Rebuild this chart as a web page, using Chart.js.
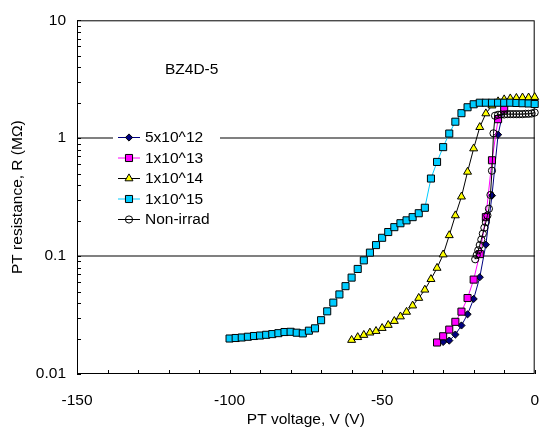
<!DOCTYPE html>
<html>
<head>
<meta charset="utf-8">
<script src="https://cdn.jsdelivr.net/npm/chart.js@4.4.1/dist/chart.umd.min.js"></script>
<style>
  html, body { margin: 0; padding: 0; background: #fff; }
  #wrap { width: 548px; height: 432px; }
</style>
</head>
<body>
<div id="wrap"><canvas id="ptChart" width="548" height="432"></canvas></div>
<script>
// PT resistance vs PT voltage, sample BZ4D-5
const V_5E12 = [-30, -28, -26, -24, -22, -20, -18, -16, -14, -12, -10];
const R_5E12 = [0.0187, 0.0192, 0.0216, 0.0258, 0.0321, 0.0433, 0.0662, 0.125, 0.326, 1.07, 1.86];

const V_1E13 = [-32, -30, -28, -26, -24, -22, -20, -18, -16, -14, -12, -10];
const R_1E13 = [0.0185, 0.0209, 0.0238, 0.0277, 0.0338, 0.0441, 0.0632, 0.104, 0.214, 0.650, 1.45, 1.75];

const V_1E14 = [-60, -58, -56, -54, -52, -50, -48, -46, -44, -42, -40, -38, -36, -34, -32, -30,
                -28, -26, -24, -22, -20, -18, -16, -14, -12, -10, -8, -6, -4, -2, 0];
const R_1E14 = [0.0194, 0.0205, 0.0214, 0.0224, 0.0231, 0.0245, 0.0260, 0.0281, 0.0307, 0.0336, 0.0380,
                0.0441, 0.0518, 0.0637, 0.0793, 0.103, 0.150, 0.221, 0.319, 0.518, 0.817, 1.24, 1.62,
                1.89, 2.05, 2.13, 2.17, 2.19, 2.21, 2.21, 2.23];

const V_1E15 = [-100, -98, -96, -94, -92, -90, -88, -86, -84, -82, -80, -78, -76, -74, -72, -70,
                -68, -66, -64, -62, -60, -58, -56, -54, -52, -50, -48, -46, -44, -42, -40, -38,
                -36, -34, -32, -30, -28, -26, -24, -22, -20, -18, -16, -14, -12, -10, -8, -6,
                -4, -2, 0];
const R_1E15 = [0.0200, 0.0202, 0.0204, 0.0207, 0.0210, 0.0212, 0.0215, 0.0218, 0.0222, 0.0227, 0.0228,
                0.0224, 0.0221, 0.0233, 0.0244, 0.0286, 0.0340, 0.0403, 0.0473, 0.0556, 0.0657, 0.0778,
                0.0920, 0.107, 0.124, 0.143, 0.160, 0.176, 0.190, 0.201, 0.214, 0.231, 0.257, 0.455,
                0.629, 0.840, 1.095, 1.38, 1.63, 1.83, 1.94, 2.0, 2.0, 2.0, 2.0, 2.0, 2.0, 1.99, 1.98,
                1.97, 1.95];

const V_NON = [-19.5, -19, -18.5, -18, -17.5, -17, -16.5, -16, -15.5, -15, -14.5, -14, -13.5, -13,
               -12, -11, -10, -9, -8, -7, -6, -5, -4, -3, -2, -1, 0];
const R_NON = [0.094, 0.102, 0.112, 0.124, 0.138, 0.155, 0.174, 0.194, 0.221, 0.252, 0.33, 0.53, 1.1, 1.55,
               1.58, 1.59, 1.59, 1.6, 1.6, 1.6, 1.6, 1.6, 1.6, 1.61, 1.61, 1.62, 1.65];

const X_TICKS = [-150, -100, -50, 0];
const Y_TICKS = [0.01, 0.1, 1, 10];
const Y_TICK_LABELS = ['0.01', '0.1', '1', '10'];
const GRID_VALUES = [0.1, 1];

const FONT_FAMILY = "'Liberation Sans', Arial, sans-serif";
const FONT_SIZE = 15.5;
Chart.defaults.font.family = FONT_FAMILY;
Chart.defaults.font.size = FONT_SIZE;
Chart.defaults.color = '#000';

const pts = (xs, ys) => xs.map((v, i) => ({ x: v, y: ys[i] }));

function series(label, xs, ys, line, fill, style, radius, order) {
    return {
        label: label,
        data: pts(xs, ys),
        showLine: true,
        borderColor: line,
        borderWidth: 1,
        pointStyle: style,
        pointRadius: radius,
        pointHoverRadius: radius,
        pointBackgroundColor: fill,
        pointBorderColor: '#000',
        pointBorderWidth: 1,
        clip: false,
        order: order
    };
}

// frame + inward ticks like the Excel original
const frameTicks = {
    id: 'frameTicks',
    beforeDatasetsDraw(chart) {
        const { ctx, chartArea: a, scales: { x, y } } = chart;
        ctx.save();
        ctx.strokeStyle = '#000';
        ctx.lineWidth = 1;
        ctx.strokeRect(a.left + 0.5, a.top + 0.5, a.right - a.left - 1, a.bottom - a.top - 1);
        ctx.beginPath();
        for (let v = -150; v <= 0; v += 10) {
            const px = Math.round(x.getPixelForValue(v)) + 0.5;
            ctx.moveTo(px, a.bottom);
            ctx.lineTo(px, a.bottom - 4);
        }
        for (let e = -2; e <= 0; e++) {
            for (let k = 1; k <= 10; k++) {
                const py = Math.round(y.getPixelForValue(k * Math.pow(10, e))) + 0.5;
                ctx.moveTo(a.left, py);
                ctx.lineTo(a.left + 4, py);
            }
        }
        ctx.stroke();
        // legend sits on a white patch over the grid line
        ctx.fillStyle = '#fff';
        ctx.fillRect(113, 127, 107, 103);
        ctx.restore();
    }
};

const legendNote = {
    id: 'legendNote',
    afterDraw(chart) {
        const ctx = chart.ctx;
        ctx.save();
        ctx.font = FONT_SIZE + 'px ' + FONT_FAMILY;
        ctx.textBaseline = 'middle';
        ctx.fillStyle = '#000';
        ctx.fillText('BZ4D-5', 165, 70);
        chart.data.datasets.forEach((ds, i) => {
            const yy = 137 + i * 20.5;
            ctx.strokeStyle = ds.borderColor;
            ctx.lineWidth = 1;
            ctx.beginPath();
            ctx.moveTo(118, yy + 0.5);
            ctx.lineTo(140, yy + 0.5);
            ctx.stroke();
            ctx.fillStyle = ds.pointBackgroundColor;
            ctx.strokeStyle = ds.pointBorderColor;
            Chart.helpers.drawPoint(ctx, { pointStyle: ds.pointStyle, radius: ds.pointRadius, borderWidth: 1, rotation: 0 }, 129, yy + 0.5);
            ctx.fillStyle = '#000';
            ctx.fillText(ds.label, 145, yy + 1);
        });
        ctx.restore();
    }
};

new Chart(document.getElementById('ptChart'), {
    type: 'scatter',
    data: {
        datasets: [
            series('5x10^12', V_5E12, R_5E12, '#000080', '#000080', 'rectRot', 3.6, 5),
            series('1x10^13', V_1E13, R_1E13, '#FF00FF', '#FF00FF', 'rect', 5, 4),
            series('1x10^14', V_1E14, R_1E14, '#000000', '#FFFF00', 'triangle', 4.6, 3),
            series('1x10^15', V_1E15, R_1E15, '#00CCFF', '#00CCFF', 'rect', 5, 2),
            series('Non-irrad', V_NON, R_NON, '#000000', 'rgba(0,0,0,0)', 'circle', 3.6, 1)
        ]
    },
    options: {
        responsive: false,
        animation: false,
        events: [],
        layout: { padding: { top: 18, right: 5, left: 0, bottom: 0 } },
        plugins: { legend: { display: false }, tooltip: { enabled: false } },
        scales: {
            x: {
                type: 'linear',
                min: -150,
                max: 0,
                afterFit: s => { s.height = 58; },
                afterBuildTicks: s => { s.ticks = X_TICKS.map(v => ({ value: v })); },
                grid: { display: false },
                border: { display: false },
                ticks: { padding: 9, maxRotation: 0 },
                title: { display: true, text: 'PT voltage, V (V)', padding: { top: 0, bottom: 3 } }
            },
            y: {
                type: 'logarithmic',
                min: 0.01,
                max: 10,
                afterFit: s => { s.width = 77; },
                afterBuildTicks: s => { s.ticks = Y_TICKS.map(v => ({ value: v })); },
                grid: {
                    drawTicks: false,
                    lineWidth: 2,
                    color: c => GRID_VALUES.includes(c.tick && c.tick.value) ? '#808080' : 'rgba(0,0,0,0)'
                },
                border: { display: false },
                ticks: {
                    autoSkip: false,
                    padding: 11,
                    callback: (v, i) => Y_TICK_LABELS[i]
                },
                title: { display: true, text: 'PT resistance, R (MΩ)', padding: { top: 8, bottom: 0 } }
            }
        }
    },
    plugins: [frameTicks, legendNote]
});
</script>
</body>
</html>
